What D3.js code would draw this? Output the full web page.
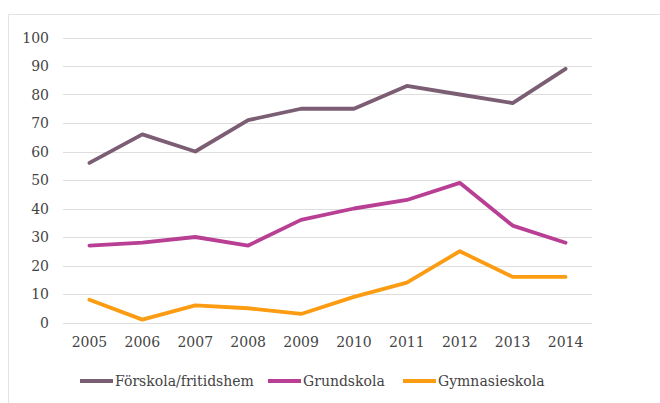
<!DOCTYPE html>
<html><head><meta charset="utf-8">
<script src="https://cdn.jsdelivr.net/npm/d3@7"></script>
<style>body{margin:0;background:#fff;}svg{display:block;}</style>
</head><body>
<svg id="c" width="660" height="403"></svg>
<script>
const years = ["2005","2006","2007","2008","2009","2010","2011","2012","2013","2014"];
const forskola = [56, 66, 60, 71, 75, 75, 83, 80, 77, 89];
const grundskola = [27, 28, 30, 27, 36, 40, 43, 49, 34, 28];
const gymnasieskola = [8, 1, 6, 5, 3, 9, 14, 25, 16, 16];
const seriesNames = ["Förskola/fritidshem", "Grundskola", "Gymnasieskola"];
const yTicks = [0,10,20,30,40,50,60,70,80,90,100];

const colors = ["#7b5d74", "#b83f93", "#fb9c12"];
const series = [forskola, grundskola, gymnasieskola];
const font = "'DejaVu Serif', Georgia, serif";
const textColor = "#444";

const svg = d3.select("#c");
// frame
svg.append("path").attr("d","M8.5,403 V14.5 H660").attr("fill","none").attr("stroke","#e3e3e3").attr("stroke-width",1);

const x = d3.scaleBand().domain(years).range([63, 592]);
const y = d3.scaleLinear().domain([0,100]).range([322.5, 37.5]);

// gridlines
svg.append("g").selectAll("line").data(yTicks).join("line")
  .attr("x1",63).attr("x2",592)
  .attr("y1",d=>Math.round(y(d))+0.5).attr("y2",d=>Math.round(y(d))+0.5)
  .attr("stroke","#dedede").attr("stroke-width",1);

// y axis labels
const yAxis = d3.axisLeft(y).tickValues(yTicks).tickSize(0).tickPadding(0);
const gy = svg.append("g").attr("transform","translate(49,0)").call(yAxis);
gy.select(".domain").remove();
gy.selectAll("text").attr("font-family",font).attr("font-size",14).attr("fill",textColor).attr("dy","0.35em");

// x axis labels
const xAxis = d3.axisBottom(x).tickSize(0).tickPadding(0);
const gx = svg.append("g").attr("transform","translate(0,337)").call(xAxis);
gx.select(".domain").remove();
gx.selectAll("text").attr("font-family",font).attr("font-size",14).attr("fill",textColor).attr("dy","0.71em");

// lines
const line = d3.line().x((d,i)=>x(years[i])+x.bandwidth()/2).y(d=>y(d));
series.forEach((s,k)=>{
  svg.append("path").datum(s).attr("d",line).attr("fill","none")
    .attr("stroke",colors[k]).attr("stroke-width",3.8)
    .attr("stroke-linejoin","round").attr("stroke-linecap","round");
});

// legend
const legX = [80, 268, 403];
const lg = svg.append("g");
seriesNames.forEach((n,k)=>{
  lg.append("line").attr("x1",legX[k]).attr("x2",legX[k]+33).attr("y1",381).attr("y2",381)
    .attr("stroke",colors[k]).attr("stroke-width",3.8);
  lg.append("text").attr("x",legX[k]+35).attr("y",381).attr("dy","0.35em")
    .attr("font-family",font).attr("font-size",14).attr("fill",textColor).text(n);
});
</script>
</body></html>
